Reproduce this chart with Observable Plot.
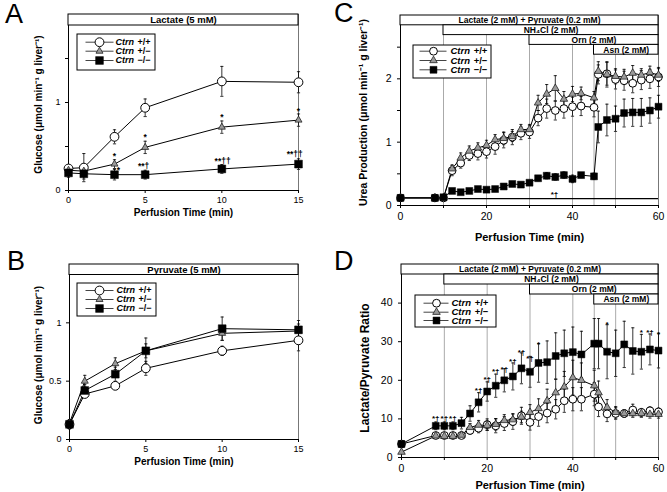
<!DOCTYPE html>
<html><head><meta charset="utf-8">
<script src="https://cdn.jsdelivr.net/npm/d3@7"></script>
<script src="https://cdn.jsdelivr.net/npm/@observablehq/plot@0.6"></script>
<style>
body{margin:0;background:#fff;}
#wrap{position:relative;width:667px;height:492px;overflow:hidden;background:#fff;}
.panel{position:absolute;}
.letter{position:absolute;font-family:"Liberation Sans",Arial,sans-serif;font-size:27px;line-height:27px;color:#000;}
</style></head><body><div id="wrap"></div>
<script>
const FONT = "'Liberation Sans', Arial, Helvetica, sans-serif";

// ---------- data ----------
const genotypes = ["+/+", "+/−", "−/−"];
const xLabel = "Perfusion Time (min)";

// A: Lactate (5 mM)
const timesAB = [0, 1, 3, 5, 10, 15];
const A_wt = [0.25, 0.26, 0.61, 0.94, 1.24, 1.23];
const A_wtErr = [0.03, 0.16, 0.08, 0.10, 0.17, 0.12];
const A_het = [0.23, 0.22, 0.30, 0.49, 0.72, 0.80];
const A_hetErr = [0.02, 0.03, 0.05, 0.07, 0.07, 0.07];
const A_ko = [0.20, 0.19, 0.18, 0.18, 0.245, 0.30];
const A_koErr = [0.05, 0.06, 0.06, 0.05, 0.05, 0.06];
const A_annT = [3, 3.25, 5, 4.9, 10, 10.05, 15, 14.75];
const A_annY = [0.385, 0.225, 0.60, 0.27, 0.83, 0.33, 0.90, 0.41];
const A_annText = ["*", "*", "*", "**†", "*", "**††", "*", "**††"];

// B: Pyruvate (5 mM)
const B_wt = [0.13, 0.39, 0.46, 0.61, 0.76, 0.85];
const B_wtErr = [0.03, 0.03, 0.03, 0.06, 0.04, 0.09];
const B_het = [0.14, 0.50, 0.65, 0.76, 0.91, 0.93];
const B_hetErr = [0.03, 0.05, 0.05, 0.06, 0.06, 0.06];
const B_ko = [0.13, 0.42, 0.56, 0.76, 0.95, 0.94];
const B_koErr = [0.04, 0.05, 0.06, 0.11, 0.10, 0.08];

// C & D: time course
const timesCD = [0, 8, 10, 12, 14, 16, 18, 20, 22, 24, 26, 28, 30, 32, 34, 36, 38, 40, 42, 45, 46, 48, 50, 52, 54, 56, 58, 60];
const protocolLabels = ["Lactate (2 mM) + Pyruvate (0.2 mM)", "NH₄Cl (2 mM)", "Orn (2 mM)", "Asn (2 mM)"];
const protocolStarts = [0, 10, 30, 45];
const gridCD = [10, 20, 30, 40, 45, 50];

const C_wt = [0.12, 0.12, 0.12, 0.55, 0.67, 0.79, 0.82, 0.85, 0.93, 1.03, 1.08, 1.14, 1.16, 1.38, 1.53, 1.50, 1.53, 1.56, 1.57, 1.55, 2.07, 2.08, 1.99, 1.97, 1.93, 1.98, 2.00, 2.03];
const C_wtErr = [0.02, 0.02, 0.02, 0.08, 0.08, 0.08, 0.10, 0.10, 0.12, 0.12, 0.12, 0.10, 0.10, 0.12, 0.15, 0.15, 0.15, 0.15, 0.15, 0.15, 0.15, 0.18, 0.15, 0.15, 0.15, 0.15, 0.15, 0.15];
const C_het = [0.12, 0.12, 0.12, 0.58, 0.75, 0.86, 0.91, 0.95, 1.04, 1.06, 1.09, 1.20, 1.20, 1.62, 1.76, 1.85, 1.68, 1.76, 1.77, 1.70, 2.12, 2.07, 2.04, 2.03, 2.09, 2.06, 2.10, 2.06];
const C_hetErr = [0.02, 0.02, 0.02, 0.06, 0.08, 0.08, 0.08, 0.08, 0.08, 0.10, 0.08, 0.08, 0.08, 0.12, 0.15, 0.20, 0.12, 0.12, 0.10, 0.10, 0.15, 0.20, 0.12, 0.12, 0.12, 0.10, 0.10, 0.10];
const C_ko = [0.12, 0.12, 0.13, 0.23, 0.21, 0.23, 0.26, 0.25, 0.26, 0.30, 0.34, 0.33, 0.36, 0.43, 0.47, 0.45, 0.48, 0.42, 0.48, 0.46, 1.24, 1.35, 1.37, 1.46, 1.47, 1.47, 1.50, 1.56];
const C_koErr = [0.02, 0.02, 0.02, 0.02, 0.02, 0.02, 0.03, 0.03, 0.03, 0.03, 0.03, 0.03, 0.03, 0.04, 0.05, 0.05, 0.05, 0.06, 0.04, 0.05, 0.25, 0.25, 0.20, 0.22, 0.22, 0.22, 0.20, 0.18];
const C_sigFrom = 11.2, C_sigTo = 60, C_sigY = 0.11, C_sigText = "*†", C_sigTextT = 35.8, C_sigTextY = 0.18;

const D_wt = [3.5, 5.7, 5.7, 5.7, 5.7, 7.0, 7.6, 8.5, 8.2, 8.8, 9.3, 10.8, 9.1, 10.6, 11.5, 12.5, 14.7, 15.1, 15.1, 16.4, 13.1, 11.3, 11.4, 11.4, 12.3, 11.7, 12.1, 11.8];
const D_wtErr = [0.5, 0.5, 0.5, 0.5, 0.8, 1.0, 1.2, 1.5, 1.8, 1.8, 2.0, 2.2, 2.0, 2.5, 2.5, 2.5, 3.0, 3.0, 3.0, 3.0, 2.5, 2.0, 1.5, 1.0, 1.5, 1.0, 1.0, 1.0];
const D_het = [1.4, 5.6, 5.5, 5.5, 5.8, 7.8, 8.4, 8.3, 8.6, 9.6, 9.8, 10.5, 11.7, 12.7, 14.7, 16.8, 18.3, 20.7, 20.0, 18.6, 16.8, 13.0, 11.7, 11.4, 11.4, 11.4, 11.2, 11.2];
const D_hetErr = [0.3, 0.5, 0.5, 0.5, 0.8, 1.0, 1.2, 1.2, 1.5, 1.5, 1.5, 1.5, 2.0, 2.5, 3.0, 3.5, 4.0, 4.5, 4.5, 4.0, 3.0, 2.0, 1.5, 1.0, 1.0, 1.0, 1.0, 1.0];
const D_ko = [3.5, 8.2, 8.2, 8.2, 8.9, 11.4, 14.3, 17.1, 18.6, 20.0, 21.0, 23.1, 22.2, 24.5, 24.7, 26.3, 27.0, 27.3, 26.7, 29.5, 29.5, 27.4, 27.0, 29.3, 27.6, 27.4, 28.0, 27.7];
const D_koErr = [0.8, 1.0, 1.0, 1.0, 1.5, 2.0, 2.5, 2.5, 3.0, 3.0, 3.5, 4.0, 4.0, 5.0, 5.5, 6.0, 6.0, 6.5, 6.0, 6.5, 6.5, 7.0, 6.0, 6.0, 6.0, 4.5, 4.0, 4.5];
const D_annT = [8, 10, 12, 18, 20, 22, 24, 26, 28, 30, 32, 48, 56, 58, 60];
const D_annY = [10.0, 10.0, 10.0, 17.3, 20.1, 22.2, 22.9, 24.8, 27.1, 25.7, 29.3, 34.4, 32.3, 32.3, 31.9];
const D_annText = ["*†", "*†", "*†", "*†", "*†", "*†", "*†", "*†", "*†", "*†", "*", "*", "*", "*†", "*"];

// ---------- helpers ----------
const rows = (times, vals, errs) => times.map((t, i) => ({t, v: vals[i], e: errs[i]}));
const measureCanvas = document.createElement("canvas").getContext("2d");
function textWidth(str, font) { measureCanvas.font = font; return measureCanvas.measureText(str).width; }

const styles = [
  {symbol: "circle", fill: "white", stroke: "black", strokeWidth: 1},
  {symbol: "triangle", fill: "#9a9a9a", stroke: "#222", strokeWidth: 0.8},
  {symbol: "square", fill: "black", stroke: "black", strokeWidth: 0.5}
];

function panel(cfg) {
  const {width, height, ml, mr, mt, mb, xDomain, yDomain} = cfg;
  const fw = width - ml - mr, fh = height - mt - mb;
  const X = px => xDomain[0] + (px - ml) / fw * (xDomain[1] - xDomain[0]);
  const Y = py => yDomain[0] + (height - mb - py) / fh * (yDomain[1] - yDomain[0]);
  const capW = X(ml + 1.6) - X(ml);
  const marks = [];
  marks.push(Plot.frame({stroke: "#777", strokeWidth: 1}));
  marks.push(Plot.ruleY([yDomain[0]], {stroke: "black", strokeWidth: 1}));
  marks.push(Plot.ruleX([xDomain[0]], {stroke: "black", strokeWidth: 1}));
  if (cfg.grid) marks.push(Plot.ruleX(cfg.grid, {stroke: "#aaa", strokeWidth: 1}));
  // protocol header boxes
  const H = cfg.headers;
  const hdr = H.labels.map((label, i) => ({label, start: H.starts[i], row: i}));
  marks.push(Plot.rect(hdr, {
    x1: d => d.start, x2: () => xDomain[1],
    y1: d => Y(mt + (d.row + 1) * H.rowH), y2: d => Y(mt + d.row * H.rowH),
    fill: "white", stroke: "black", strokeWidth: 1
  }));
  marks.push(Plot.text(hdr, {
    x: d => (d.start + xDomain[1]) / 2, y: d => Y(mt + (d.row + 0.5) * H.rowH),
    text: "label", fontWeight: "bold", fontSize: H.fontSize, fill: "black", lineAnchor: "middle"
  }));
  // significance bar (C)
  if (cfg.sig) {
    marks.push(Plot.ruleY([cfg.sig.y], {x1: cfg.sig.from, x2: cfg.sig.to, stroke: "black", strokeWidth: 1.3}));
    marks.push(Plot.text([cfg.sig.text], {x: () => cfg.sig.tx, y: () => cfg.sig.ty, fontSize: cfg.annFs, fontWeight: "bold", fill: "black"}));
  }
  // error bars
  cfg.series.forEach(s => {
    marks.push(Plot.ruleX(s, {x: "t", y1: d => d.v - d.e, y2: d => d.v + d.e, stroke: "black", strokeWidth: 0.8}));
    marks.push(Plot.link(s, {x1: d => d.t - capW, x2: d => d.t + capW, y1: d => d.v + d.e, y2: d => d.v + d.e, stroke: "black", strokeWidth: 0.8}));
    marks.push(Plot.link(s, {x1: d => d.t - capW, x2: d => d.t + capW, y1: d => d.v - d.e, y2: d => d.v - d.e, stroke: "black", strokeWidth: 0.8}));
  });
  cfg.series.forEach(s => marks.push(Plot.line(s, {x: "t", y: "v", stroke: "black", strokeWidth: 1})));
  cfg.series.forEach((s, i) => marks.push(Plot.dot(s, {x: "t", y: "v", r: cfg.r[i], ...styles[i]})));
  // annotations
  if (cfg.ann) {
    const a = cfg.ann.t.map((t, i) => ({t, y: cfg.ann.y[i], s: cfg.ann.s[i]}));
    marks.push(Plot.text(a, {x: "t", y: "y", text: "s", fontSize: cfg.annFs, fontWeight: "bold", fill: "black"}));
  }
  // legend
  const L = cfg.legend;
  marks.push(Plot.rect([0], {x1: () => X(L.box[0]), x2: () => X(L.box[1]), y1: () => Y(L.box[3]), y2: () => Y(L.box[2]), fill: "white", stroke: "black", strokeWidth: 1}));
  const leg = genotypes.map((g, i) => ({g, i}));
  marks.push(Plot.link(leg, {x1: () => X(L.line[0]), x2: () => X(L.line[1]), y1: d => Y(L.rows[d.i]), y2: d => Y(L.rows[d.i]), stroke: "#444", strokeWidth: 1}));
  leg.forEach((d, i) => marks.push(Plot.dot([d], {x: () => X(L.marker), y: () => Y(L.rows[i]), r: cfg.r[i], ...styles[i]})));
  const cw = textWidth("Ctrn ", `italic bold ${L.fs}px 'Liberation Sans'`) + 1;
  marks.push(Plot.text(leg, {x: () => X(L.text), y: d => Y(L.rows[d.i]), text: () => "Ctrn", textAnchor: "start", fontStyle: "italic", fontWeight: "bold", fontSize: L.fs, fill: "black", lineAnchor: "middle"}));
  marks.push(Plot.text(leg, {x: () => X(L.text + cw), y: d => Y(L.rows[d.i]), text: "g", textAnchor: "start", fontWeight: "bold", fontSize: L.fs, fill: "black", lineAnchor: "middle"}));
  // axes
  marks.push(Plot.axisX({ticks: cfg.xTicks, tickSize: 3, tickPadding: cfg.tickPadX, tickFormat: cfg.xFmt, label: null, fontSize: cfg.tickFs, stroke: "black", fill: "black"}));
  marks.push(Plot.axisY({ticks: cfg.yTicks, tickSize: 3, tickPadding: cfg.tickPadY, tickFormat: cfg.yFmt, label: null, fontSize: cfg.tickFs, stroke: "black", fill: "black"}));
  marks.push(Plot.text([xLabel], {frameAnchor: "bottom", dy: cfg.xLabelDy, fontWeight: "bold", fontSize: cfg.xLabelFs, fill: "black", lineAnchor: "middle"}));
  marks.push(Plot.text([cfg.yLabel], {frameAnchor: "left", dx: cfg.yLabelDx, dy: cfg.yLabelDy, rotate: -90, fontWeight: "bold", fontSize: cfg.yLabelFs, fill: "black", lineAnchor: "middle", textAnchor: "middle"}));

  const svg = Plot.plot({
    width, height, marginLeft: ml, marginRight: mr, marginTop: mt, marginBottom: mb,
    x: {domain: xDomain}, y: {domain: yDomain},
    style: {fontFamily: FONT, fontSize: cfg.tickFs + "px", color: "black", background: "transparent", overflow: "visible"},
    marks
  });
  svg.classList.add("panel");
  svg.style.left = cfg.left + "px";
  svg.style.top = cfg.top + "px";
  return svg;
}

const intFmt = d => Number.isInteger(d) ? String(d) : "";
const wrap = document.getElementById("wrap");

const panels = [
  {left: 0, top: 0, width: 333, height: 240, ml: 68, mr: 35, mt: 14, mb: 50,
   xDomain: [0, 15], yDomain: [0, 2],
   xTicks: [0, 5, 10, 15], yTicks: [0, 0.5, 1, 1.5], xFmt: d => String(d), yFmt: intFmt,
   tickFs: 9, tickPadX: 3, tickPadY: 5, xLabelDy: 22, xLabelFs: 10, yLabel: "Glucose (μmol min⁻¹ g liver⁻¹)", yLabelDx: -30, yLabelDy: 2, yLabelFs: 10,
   headers: {labels: ["Lactate (5 mM)"], starts: [0], rowH: 11, fontSize: 9.5},
   series: [rows(timesAB, A_wt, A_wtErr), rows(timesAB, A_het, A_hetErr), rows(timesAB, A_ko, A_koErr)],
   r: [4.4, 2.6, 4.4], annFs: 8.5, ann: {t: A_annT, y: A_annY, s: A_annText},
   legend: {box: [77, 155, 34, 70], rows: [41.7, 50.7, 60], line: [85, 113], marker: 99, text: 115, fs: 9}},
  {left: 0, top: 250, width: 333, height: 242, ml: 69, mr: 35, mt: 14, mb: 53,
   xDomain: [0, 15], yDomain: [0, 1.5],
   xTicks: [0, 5, 10, 15], yTicks: [0, 0.5, 1], xFmt: d => String(d), yFmt: d => String(d),
   tickFs: 9, tickPadX: 3, tickPadY: 5, xLabelDy: 22, xLabelFs: 10, yLabel: "Glucose (μmol min⁻¹ g liver⁻¹)", yLabelDx: -31, yLabelDy: 3, yLabelFs: 10,
   headers: {labels: ["Pyruvate (5 mM)"], starts: [0], rowH: 10.5, fontSize: 9.5},
   series: [rows(timesAB, B_wt, B_wtErr), rows(timesAB, B_het, B_hetErr), rows(timesAB, B_ko, B_koErr)],
   r: [4.4, 2.6, 4.4], annFs: 8,
   legend: {box: [77, 156, 33, 66], rows: [40, 49, 58], line: [85, 113], marker: 99, text: 116, fs: 9}},
  {left: 333, top: 0, width: 334, height: 240, ml: 67, mr: 9, mt: 15, mb: 35,
   xDomain: [0, 60], yDomain: [0, 3], grid: gridCD,
   xTicks: [0, 10, 20, 30, 40, 50, 60], yTicks: [0, 0.5, 1, 1.5, 2, 2.5], xFmt: d => d % 20 === 0 ? String(d) : "", yFmt: intFmt,
   tickFs: 10.5, tickPadX: 4, tickPadY: 6, xLabelDy: 32, xLabelFs: 11, yLabel: "Urea Production (μmol min⁻¹ g liver⁻¹)", yLabelDx: -37, yLabelDy: 2, yLabelFs: 10.5,
   headers: {labels: protocolLabels, starts: protocolStarts, rowH: 9.8, fontSize: 8.5},
   series: [rows(timesCD, C_wt, C_wtErr), rows(timesCD, C_het, C_hetErr), rows(timesCD, C_ko, C_koErr)],
   r: [3.9, 2.8, 3.9], annFs: 8,
   sig: {from: C_sigFrom, to: C_sigTo, y: C_sigY, text: C_sigText, tx: C_sigTextT, ty: C_sigTextY},
   legend: {box: [80, 158, 45, 78], rows: [50.7, 60, 69.3], line: [86, 113], marker: 100, text: 117, fs: 9.5}},
  {left: 333, top: 250, width: 334, height: 242, ml: 68, mr: 9, mt: 14, mb: 35,
   xDomain: [0, 60], yDomain: [0, 50], grid: gridCD,
   xTicks: [0, 10, 20, 30, 40, 50, 60], yTicks: [0, 10, 20, 30, 40], xFmt: d => d % 20 === 0 ? String(d) : "", yFmt: d => String(d),
   tickFs: 10.5, tickPadX: 4, tickPadY: 6, xLabelDy: 28, xLabelFs: 11, yLabel: "Lactate/Pyruvate Ratio", yLabelDx: -36, yLabelDy: 7, yLabelFs: 12,
   headers: {labels: protocolLabels, starts: protocolStarts, rowH: 10, fontSize: 8.5},
   series: [rows(timesCD, D_wt, D_wtErr), rows(timesCD, D_het, D_hetErr), rows(timesCD, D_ko, D_koErr)],
   r: [3.9, 2.8, 3.9], annFs: 8, ann: {t: D_annT, y: D_annY, s: D_annText},
   legend: {box: [82, 163, 45, 77], rows: [52.7, 61.7, 70], line: [90, 115], marker: 103, text: 118, fs: 9.5}}
];
panels.forEach(p => wrap.appendChild(panel(p)));

const letters = [["A", 5, 1], ["B", 7, 248], ["C", 334, 0], ["D", 334, 248]];
letters.forEach(([s, x, y]) => {
  const d = document.createElement("div");
  d.className = "letter"; d.textContent = s;
  d.style.left = x + "px"; d.style.top = y + "px";
  wrap.appendChild(d);
});
</script></body></html>
